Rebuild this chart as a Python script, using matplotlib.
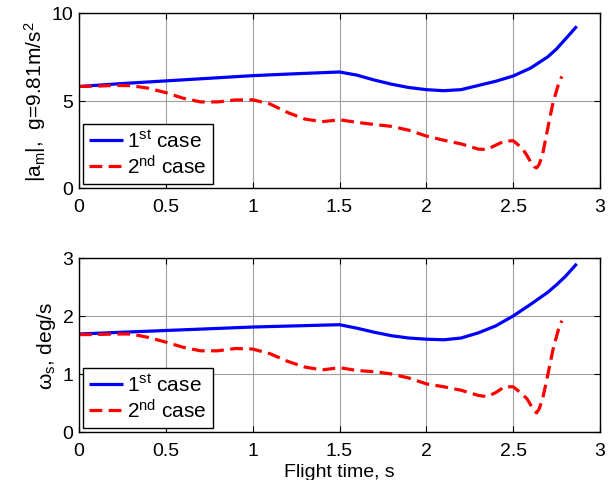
import matplotlib
matplotlib.use("Agg")
import matplotlib.pyplot as plt

plt.rcParams['font.family'] = ['Liberation Sans', 'DejaVu Sans']
plt.rcParams['mathtext.fontset'] = 'custom'
plt.rcParams['mathtext.rm'] = 'Liberation Sans'
plt.rcParams['mathtext.it'] = 'Liberation Sans'
plt.rcParams['mathtext.default'] = 'regular'

# ---- data ----
t_case1 = [0, 0.25, 0.5, 0.75, 1.0, 1.25, 1.5, 1.6, 1.7, 1.8, 1.9, 2.0, 2.1, 2.2,
           2.3, 2.4, 2.5, 2.6, 2.7, 2.75, 2.8, 2.866]
am_case1 = [5.80, 5.97, 6.12, 6.27, 6.42, 6.53, 6.63, 6.45, 6.17, 5.93, 5.74, 5.62,
            5.56, 5.62, 5.86, 6.10, 6.40, 6.85, 7.50, 7.95, 8.50, 9.24]
ws_case1 = [1.69, 1.72, 1.75, 1.78, 1.81, 1.83, 1.85, 1.79, 1.72, 1.66, 1.62, 1.60,
            1.59, 1.62, 1.71, 1.83, 2.00, 2.20, 2.41, 2.54, 2.68, 2.90]

t_case2 = [0, 0.1, 0.2, 0.3, 0.4, 0.5, 0.6, 0.7, 0.8, 0.9, 1.0, 1.1, 1.2, 1.3, 1.4,
           1.5, 1.6, 1.7, 1.8, 1.9, 2.0, 2.1, 2.2, 2.3, 2.35, 2.4, 2.45, 2.5, 2.55,
           2.58, 2.6, 2.62, 2.635, 2.65, 2.67, 2.69, 2.71, 2.73, 2.76, 2.78]
am_case2 = [5.80, 5.82, 5.86, 5.85, 5.70, 5.45, 5.13, 4.92, 4.92, 5.03, 5.04, 4.80,
            4.32, 3.94, 3.79, 3.90, 3.75, 3.63, 3.52, 3.30, 2.97, 2.73, 2.52, 2.22,
            2.20, 2.45, 2.68, 2.70, 2.30, 1.85, 1.50, 1.22, 1.15, 1.35, 1.95, 2.95,
            3.95, 4.90, 5.90, 6.38]
ws_case2 = [1.68, 1.68, 1.69, 1.69, 1.63, 1.55, 1.46, 1.40, 1.40, 1.44, 1.43, 1.35,
            1.22, 1.12, 1.07, 1.11, 1.06, 1.04, 1.00, 0.93, 0.83, 0.78, 0.72, 0.63,
            0.61, 0.68, 0.78, 0.78, 0.66, 0.57, 0.47, 0.37, 0.33, 0.40, 0.58, 0.85,
            1.14, 1.43, 1.76, 1.92]

x_ticks = [0, 0.5, 1, 1.5, 2, 2.5, 3]
x_ticklabels = ['0', '0.5', '1', '1.5', '2', '2.5', '3']
top_yticks = [0, 5, 10]
bot_yticks = [0, 1, 2, 3]
labels = ['1$^{st}$ case', '2$^{nd}$ case']

fig = plt.figure(figsize=(6.13, 4.81), dpi=100)
ax1 = fig.add_axes([79/613, 1-189/481, 521/613, 175/481])
ax2 = fig.add_axes([79/613, 1-433/481, 521/613, 174/481])

FS = 14

def style(ax, yt, ylim):
    ax.set_xlim(0, 3)
    ax.set_ylim(*ylim)
    ax.set_xticks(x_ticks)
    ax.set_xticklabels(x_ticklabels)
    ax.set_yticks(yt)
    ax.tick_params(direction='in', top=True, right=True, length=4, width=0.8,
                   labelsize=FS, pad=4)
    ax.tick_params(axis='x', pad=7)
    ax.grid(True, color='#a0a0a0', lw=0.8)
    for s in ax.spines.values():
        s.set_linewidth(1.0)

for ax, y1, y2, yt, ylim, ylab in [
        (ax1, am_case1, am_case2, top_yticks, (0, 10), '|a$_m$|,  g=9.81m/s$^2$'),
        (ax2, ws_case1, ws_case2, bot_yticks, (0, 3), r'$\omega_s$, deg/s')]:
    l1, = ax.plot(t_case1, y1, color='#0000ff', lw=2.3, solid_capstyle='butt')
    l2, = ax.plot(t_case2, y2, color='#ff0000', lw=2.3, dashes=(4, 2))
    style(ax, yt, ylim)
    ax.set_ylabel(ylab, fontsize=15, labelpad=3)
    leg = ax.legend([l1, l2], labels, loc='lower left', fontsize=15,
                    frameon=True, fancybox=False, framealpha=1,
                    edgecolor='black', borderaxespad=0.2, handlelength=1.6,
                    handletextpad=0.2, labelspacing=0.15, borderpad=0.3)
    leg.get_frame().set_linewidth(1.0)

ax2.set_xlabel('Flight time, s', fontsize=FS, labelpad=3)

fig.savefig('out.png', dpi=100)
